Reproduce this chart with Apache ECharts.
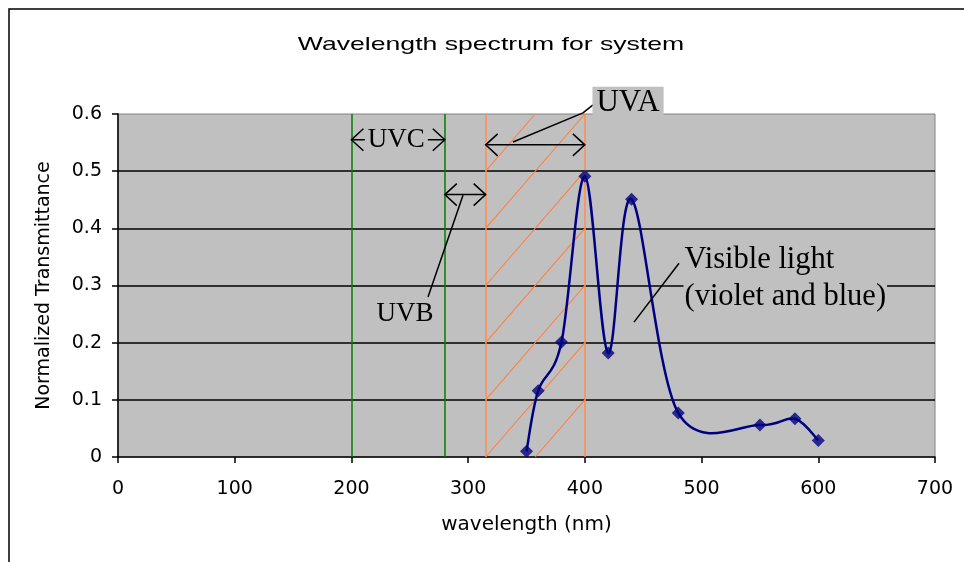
<!DOCTYPE html>
<html><head><meta charset="utf-8">
<script src="https://cdn.jsdelivr.net/npm/echarts@6/dist/echarts.min.js"></script>
<style>html,body{margin:0;padding:0;background:#fff}#c{width:964px;height:562px}</style>
</head><body><div id="c"></div>
<script>
// ---- data ----
const wavelengths = [350, 360, 380, 400, 420, 440, 480, 550, 580, 600];
const transmittance = [0.01, 0.116, 0.201, 0.491, 0.182, 0.451, 0.077, 0.056, 0.067, 0.029];
const xTickMin = 0, xTickMax = 700, xTickStep = 100;
const yTickMin = 0, yTickMax = 0.6, yTickStep = 0.1;
const greenBounds = [200, 280];
const orangeBounds = [315, 400];
const hatchSegments = [
  [357.5, 0, 400, 0.1], [315, 0, 400, 0.2], [315, 0.1, 400, 0.3], [315, 0.2, 400, 0.4],
  [315, 0.3, 400, 0.5], [315, 0.4, 400, 0.6], [315, 0.5, 357.5, 0.6]
];
const arrowSpans = [[200, 280, 0.555], [280, 315, 0.459], [315, 400, 0.546]];
const leaderUVB = [[295.6, 0.458], [265.6, 0.28]];
const leaderUVA = [[338.4, 0.551], [398.4, 0.602], [407, 0.616]];
const leaderVis = [[480.7, 0.339], [442.1, 0.236]];
const annotationTexts = ['UVC', 'UVB', 'UVA', 'Visible light', '(violet and blue)'];
const annotationPos = [[238.5, 0.554], [246, 0.251], [437, 0.619], [484.5, 0.344], [484.5, 0.28]];

const chart = echarts.init(document.getElementById('c'), null, {renderer: 'canvas'});
const sans = '"DejaVu Sans", "Liberation Sans", sans-serif';
const serif = '"Liberation Serif", "DejaVu Serif", serif';

const annotationStyles = [
  {size: 27, align: 'center', bg: '#C0C0C0', pad: [0, 3]},
  {size: 27, align: 'center', bg: null, pad: 0},
  {size: 31, align: 'center', bg: '#C0C0C0', pad: [1, 4]},
  {size: 30.5, align: 'left', bg: '#C0C0C0', pad: [0, 1]},
  {size: 30.5, align: 'left', bg: '#C0C0C0', pad: [0, 1]}
];

const points = wavelengths.map((w, i) => [w, transmittance[i]]);

chart.setOption({
  animation: false,
  backgroundColor: '#fff',
  grid: {left: 118, right: 29, top: 114, bottom: 105, show: true,
         backgroundColor: '#C0C0C0', borderColor: '#808080', borderWidth: 1},
  graphic: [
    {type: 'rect', shape: {x: 9, y: 9, width: 1200, height: 1200},
     style: {fill: null, stroke: '#000', lineWidth: 1.5}, silent: true, z: -10},
    {type: 'text', x: 491, y: 45, scaleX: 1.4,
     style: {text: 'Wavelength spectrum for system', font: '19px "Liberation Sans", sans-serif',
             fill: '#000', align: 'center', verticalAlign: 'middle'}}
  ],
  xAxis: {
    type: 'value', min: xTickMin, max: xTickMax, interval: xTickStep,
    name: 'wavelength (nm)', nameLocation: 'middle', nameGap: 58,
    nameTextStyle: {fontFamily: sans, fontSize: 20, color: '#000'},
    axisLine: {show: true, onZero: false, lineStyle: {color: '#000', width: 1.5}},
    axisTick: {show: true, inside: false, length: 6, lineStyle: {color: '#000', width: 1.5}},
    axisLabel: {fontFamily: sans, fontSize: 19, color: '#000', margin: 23},
    splitLine: {show: false}
  },
  yAxis: {
    type: 'value', min: yTickMin, max: yTickMax, interval: yTickStep,
    name: 'Normalized Transmittance', nameLocation: 'middle', nameGap: 64,
    nameTextStyle: {fontFamily: sans, fontSize: 19, color: '#000'},
    axisLine: {show: true, lineStyle: {color: '#000', width: 1.5}},
    axisTick: {show: true, inside: false, length: 6, lineStyle: {color: '#000', width: 1.5}},
    axisLabel: {fontFamily: sans, fontSize: 19, color: '#000', margin: 16,
                formatter: v => (v === 0 ? '0' : v.toFixed(1))},
    splitLine: {show: true, showMinLine: false, showMaxLine: false, lineStyle: {color: '#000', width: 1.5}}
  },
  series: [
    {
      type: 'custom', name: 'hatch', coordinateSystem: 'cartesian2d', z: 2, silent: true,
      encode: {x: [0, 2], y: [1, 3]},
      data: hatchSegments,
      renderItem: (params, api) => {
        const a = api.coord([api.value(0), api.value(1)]);
        const b = api.coord([api.value(2), api.value(3)]);
        return {type: 'line', shape: {x1: a[0], y1: a[1], x2: b[0], y2: b[1]},
                style: {stroke: '#FF8040', lineWidth: 1.1}};
      }
    },
    {
      type: 'line', name: 'bounds', data: [], z: 3, silent: true,
      markLine: {
        silent: true, symbol: 'none', label: {show: false},
        data: greenBounds.map(v => ({xAxis: v, lineStyle: {color: '#008000', width: 1.5, type: 'solid'}}))
              .concat(orangeBounds.map(v => ({xAxis: v, lineStyle: {color: '#FF8C50', width: 1.5, type: 'solid'}})))
      }
    },
    {
      // smoothed curve (Catmull-Rom style, like a spreadsheet "smoothed line")
      type: 'custom', name: 'curve', coordinateSystem: 'cartesian2d', z: 5, silent: true,
      encode: {x: 0, y: 1},
      data: points,
      renderItem: (params, api) => {
        const i = params.dataIndex, n = points.length;
        if (i >= n - 1) return null;
        const c = k => api.coord(points[Math.max(0, Math.min(n - 1, k))]);
        const p0 = c(i - 1), p1 = c(i), p2 = c(i + 1), p3 = c(i + 2);
        return {type: 'bezierCurve', shape: {
          x1: p1[0], y1: p1[1], x2: p2[0], y2: p2[1],
          cpx1: p1[0] + (p2[0] - p0[0]) / 6, cpy1: p1[1] + (p2[1] - p0[1]) / 6,
          cpx2: p2[0] - (p3[0] - p1[0]) / 6, cpy2: p2[1] - (p3[1] - p1[1]) / 6
        }, style: {stroke: '#000080', lineWidth: 2.5, fill: null}};
      }
    },
    {
      type: 'scatter', name: 'Transmittance', z: 6,
      data: points,
      symbol: 'diamond', symbolSize: 13,
      itemStyle: {color: '#000080'}
    },
    {
      type: 'custom', name: 'arrows', coordinateSystem: 'cartesian2d', z: 6, silent: true, clip: false,
      encode: {x: [0, 1], y: 2},
      data: arrowSpans,
      renderItem: (params, api) => {
        const p1 = api.coord([api.value(0), api.value(2)]);
        const p2 = api.coord([api.value(1), api.value(2)]);
        const a = 12, h = 11;
        const st = {stroke: '#000', fill: null, lineWidth: 1.5};
        return {type: 'group', children: [
          {type: 'line', shape: {x1: p1[0], y1: p1[1], x2: p2[0], y2: p2[1]}, style: st},
          {type: 'polyline', shape: {points: [[p1[0] + a, p1[1] - h], [p1[0], p1[1]], [p1[0] + a, p1[1] + h]]}, style: st},
          {type: 'polyline', shape: {points: [[p2[0] - a, p2[1] - h], [p2[0], p2[1]], [p2[0] - a, p2[1] + h]]}, style: st}
        ]};
      }
    },
    {type: 'line', name: 'leaderUVB', data: leaderUVB, showSymbol: false, symbol: 'none', z: 6, silent: true, clip: false,
     lineStyle: {color: '#000', width: 1.5}},
    {type: 'line', name: 'leaderUVA', data: leaderUVA, showSymbol: false, symbol: 'none', z: 6, silent: true, clip: false,
     lineStyle: {color: '#000', width: 1.5}},
    {type: 'line', name: 'leaderVis', data: leaderVis, showSymbol: false, symbol: 'none', z: 6, silent: true, clip: false,
     lineStyle: {color: '#000', width: 1.5}},
    {
      type: 'custom', name: 'texts', coordinateSystem: 'cartesian2d', z: 7, silent: true, clip: false,
      encode: {x: 0, y: 1},
      data: annotationPos,
      renderItem: (params, api) => {
        const i = params.dataIndex;
        const p = api.coord([api.value(0), api.value(1)]);
        const s = annotationStyles[i];
        return {type: 'text', x: p[0], y: p[1],
                style: {text: annotationTexts[i], font: s.size + 'px ' + serif, fill: '#000',
                        align: s.align, verticalAlign: 'middle',
                        backgroundColor: s.bg || 'transparent', padding: s.pad}};
      }
    }
  ]
});
</script></body></html>
